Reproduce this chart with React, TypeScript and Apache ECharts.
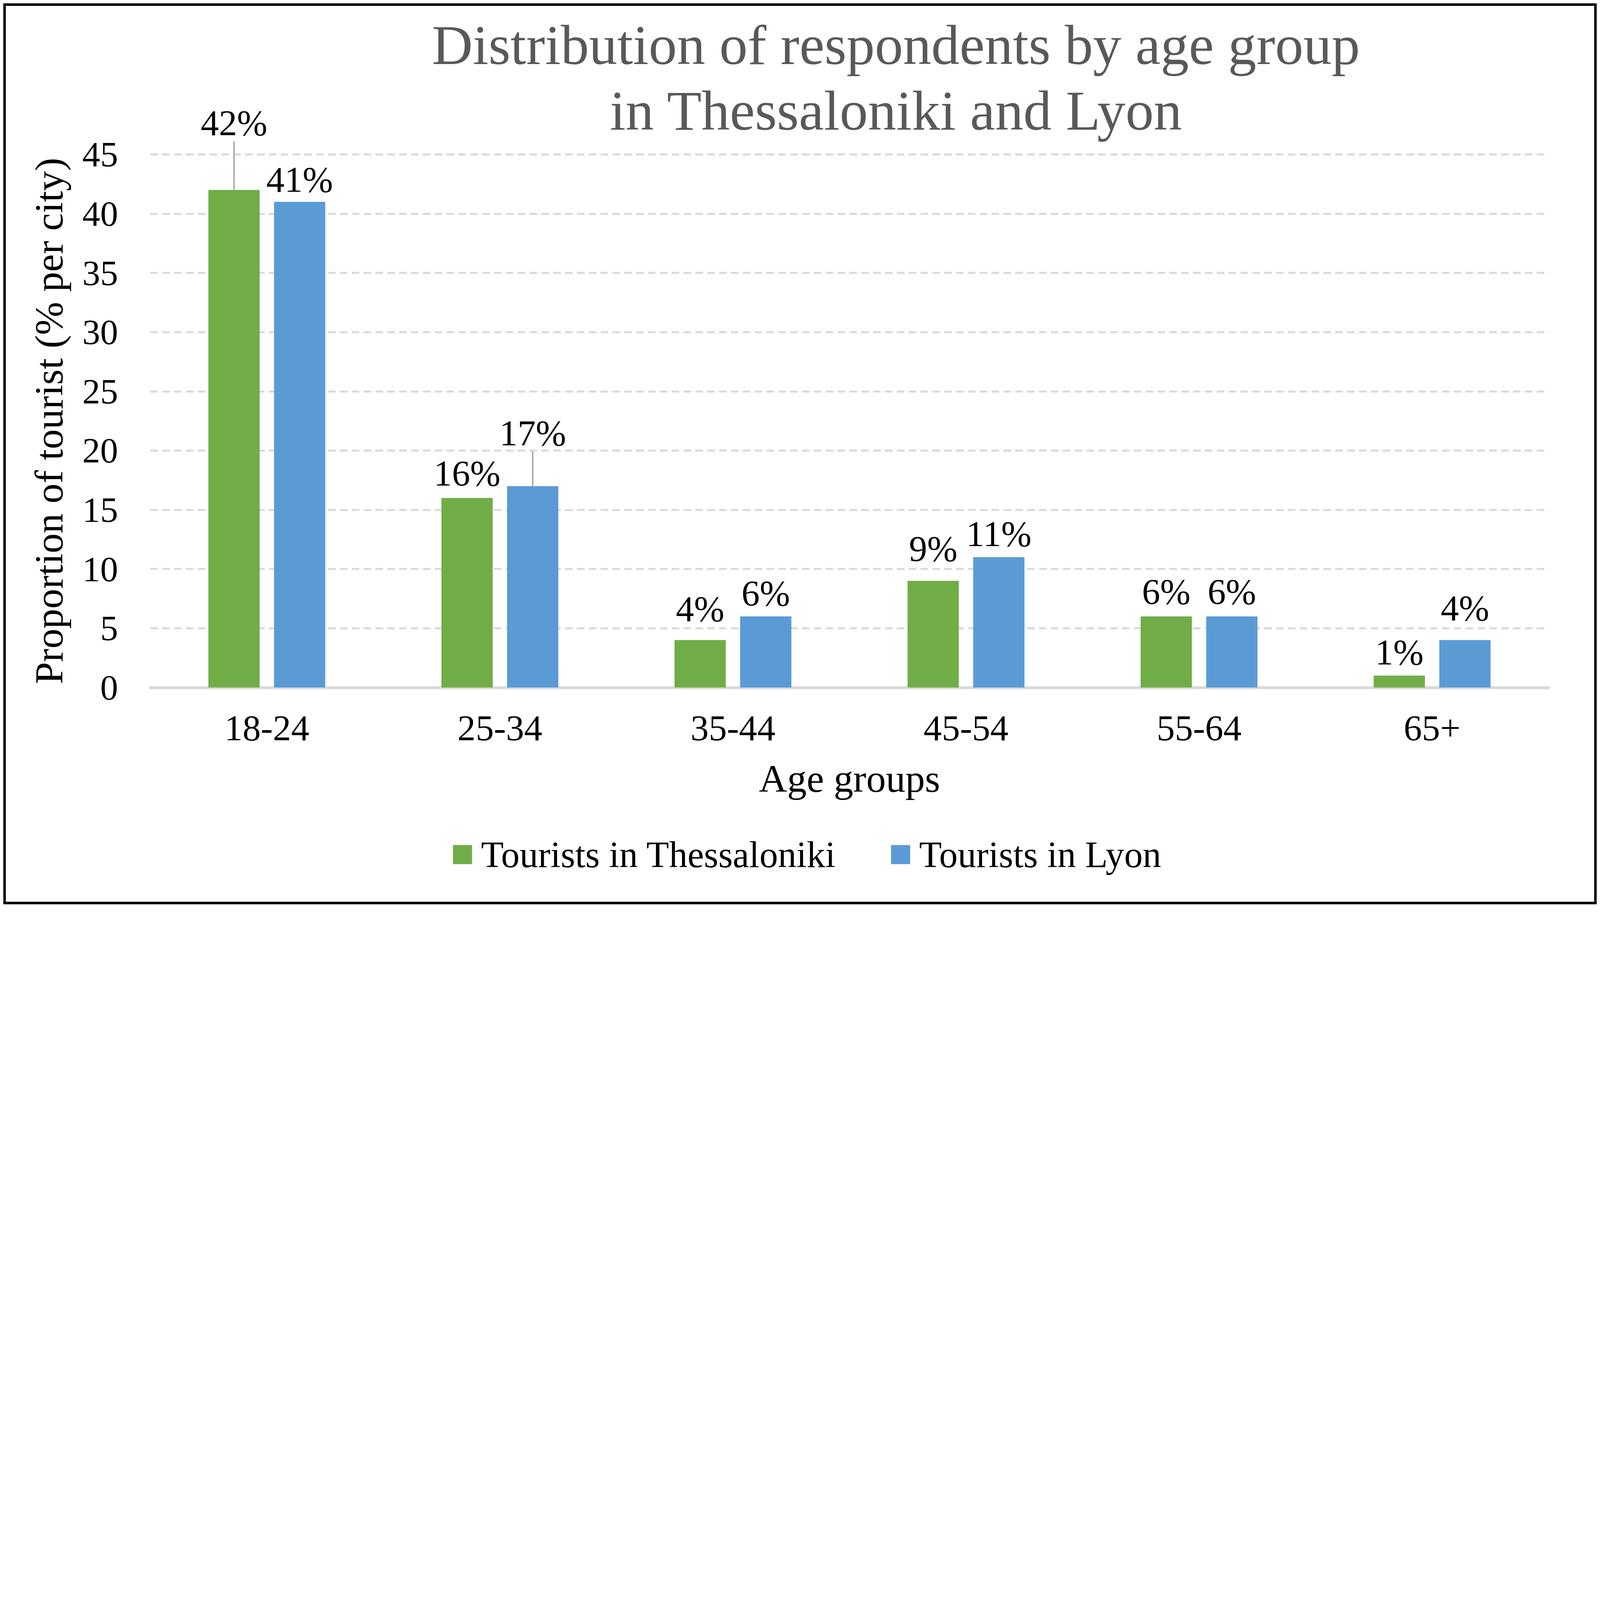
import React, { useEffect, useRef } from "react";
import * as echarts from "echarts";

const categories = ["18-24", "25-34", "35-44", "45-54", "55-64", "65+"];
const thessaloniki = [42, 16, 4, 9, 6, 1];
const lyon = [41, 17, 6, 11, 6, 4];
const seriesNames = ["Tourists in Thessaloniki", "Tourists in Lyon"];
const titleLines = ["Distribution of respondents by age group", "in Thessaloniki and Lyon"];
const xAxisName = "Age groups";
const yAxisName = "Proportion of tourist (% per city)";
const yMin = 0;
const yMax = 45;
const yInterval = 5;

// label placement styling (distance above bar top; lifted labels get a guide line)
const labelDistance = [
  [25, 31, 64, 68, 31, 25],
  [20, 25, 25, 26, 31, 66],
];
const labelLift = [
  [210, 0, 0, 0, 0, 0],
  [0, 143, 0, 0, 0, 0],
];

const W = 7697;
const H = 4353;
const COLORS = ["#70AD47", "#5B9BD5"];
const FONT = "'Liberation Serif', 'Times New Roman', serif";

export default function App() {
  const ref = useRef<HTMLDivElement>(null);
  document.body.style.margin = "0";
  const iw = window.innerWidth || W;
  const ih = window.innerHeight || H;
  const s = Math.min(iw / W, ih / H);
  const cw = Math.floor(W * s);
  const ch = Math.floor(H * s);
  useEffect(() => {
    if (!ref.current) return;
    const chart = echarts.init(ref.current, undefined, { renderer: "svg" });
    const k = (v: number) => v * s;
    const seriesValues = [thessaloniki, lyon];
    const option: any = {
      animation: false,
      backgroundColor: "#ffffff",
      title: {
        text: titleLines.join("\n"),
        left: k(4310),
        textAlign: "center",
        top: k(59),
        padding: 0,
        textStyle: {
          fontFamily: FONT,
          fontSize: k(272),
          lineHeight: k(315),
          fontWeight: "normal",
          color: "#595959",
        },
      },
      legend: {
        data: seriesNames,
        left: k(2179),
        top: k(4022),
        padding: 0,
        itemWidth: k(92),
        itemHeight: k(92),
        itemGap: k(264),
        icon: "rect",
        textStyle: {
          fontFamily: FONT,
          fontSize: k(178),
          color: "#000",
          padding: [0, 0, 0, k(34)],
        },
      },
      grid: {
        left: k(723),
        right: k(247),
        top: k(743),
        bottom: k(1045),
        containLabel: false,
      },
      xAxis: {
        type: "category",
        data: categories,
        axisLine: { show: true, lineStyle: { color: "#d9d9d9", width: k(14) } },
        axisTick: { show: false },
        axisLabel: { fontFamily: FONT, fontSize: k(175), color: "#000", margin: k(108) },
        name: xAxisName,
        nameLocation: "middle",
        nameGap: k(345),
        nameTextStyle: { fontFamily: FONT, fontSize: k(188), color: "#000" },
      },
      yAxis: {
        type: "value",
        min: yMin,
        max: yMax,
        interval: yInterval,
        axisLine: { show: false },
        axisTick: { show: false },
        axisLabel: { fontFamily: FONT, fontSize: k(172), color: "#000", margin: k(155) },
        splitLine: {
          show: true,
          lineStyle: { color: "#d9d9d9", width: k(9), type: [k(37), k(20)] },
        },
        name: yAxisName,
        nameLocation: "middle",
        nameGap: k(391),
        nameTextStyle: { fontFamily: FONT, fontSize: k(192), color: "#000" },
      },
      series: seriesValues.map((vals, si) => ({
        type: "bar",
        name: seriesNames[si],
        barWidth: "22%",
        barGap: "28%",
        itemStyle: { color: COLORS[si] },
        label: {
          show: true,
          position: "top",
          formatter: "{c}%",
          fontFamily: FONT,
          fontSize: k(175),
          color: "#000",
        },
        labelLine: {
          show: false,
          lineStyle: { color: "#a6a6a6", width: k(7) },
        },
        labelLayout: (p: any) =>
          labelLift[si][p.dataIndex] ? { dy: -k(labelLift[si][p.dataIndex]) } : {},
        data: vals.map((v, i) => ({
          value: v,
          label: { distance: k(labelDistance[si][i]) },
          labelLine: labelLift[si][i]
            ? { show: true, lineStyle: { color: "#a6a6a6", width: k(7) } }
            : { show: false },
        })),
      })),
      graphic: [
        {
          type: "rect",
          silent: true,
          shape: { x: k(22), y: k(22), width: k(7653), height: k(4322) },
          style: { fill: "none", stroke: "#000", lineWidth: k(12) },
        },
      ],
    };
    chart.setOption(option);
    return () => chart.dispose();
  }, []);
  return <div ref={ref} style={{ width: cw, height: ch }} />;
}
